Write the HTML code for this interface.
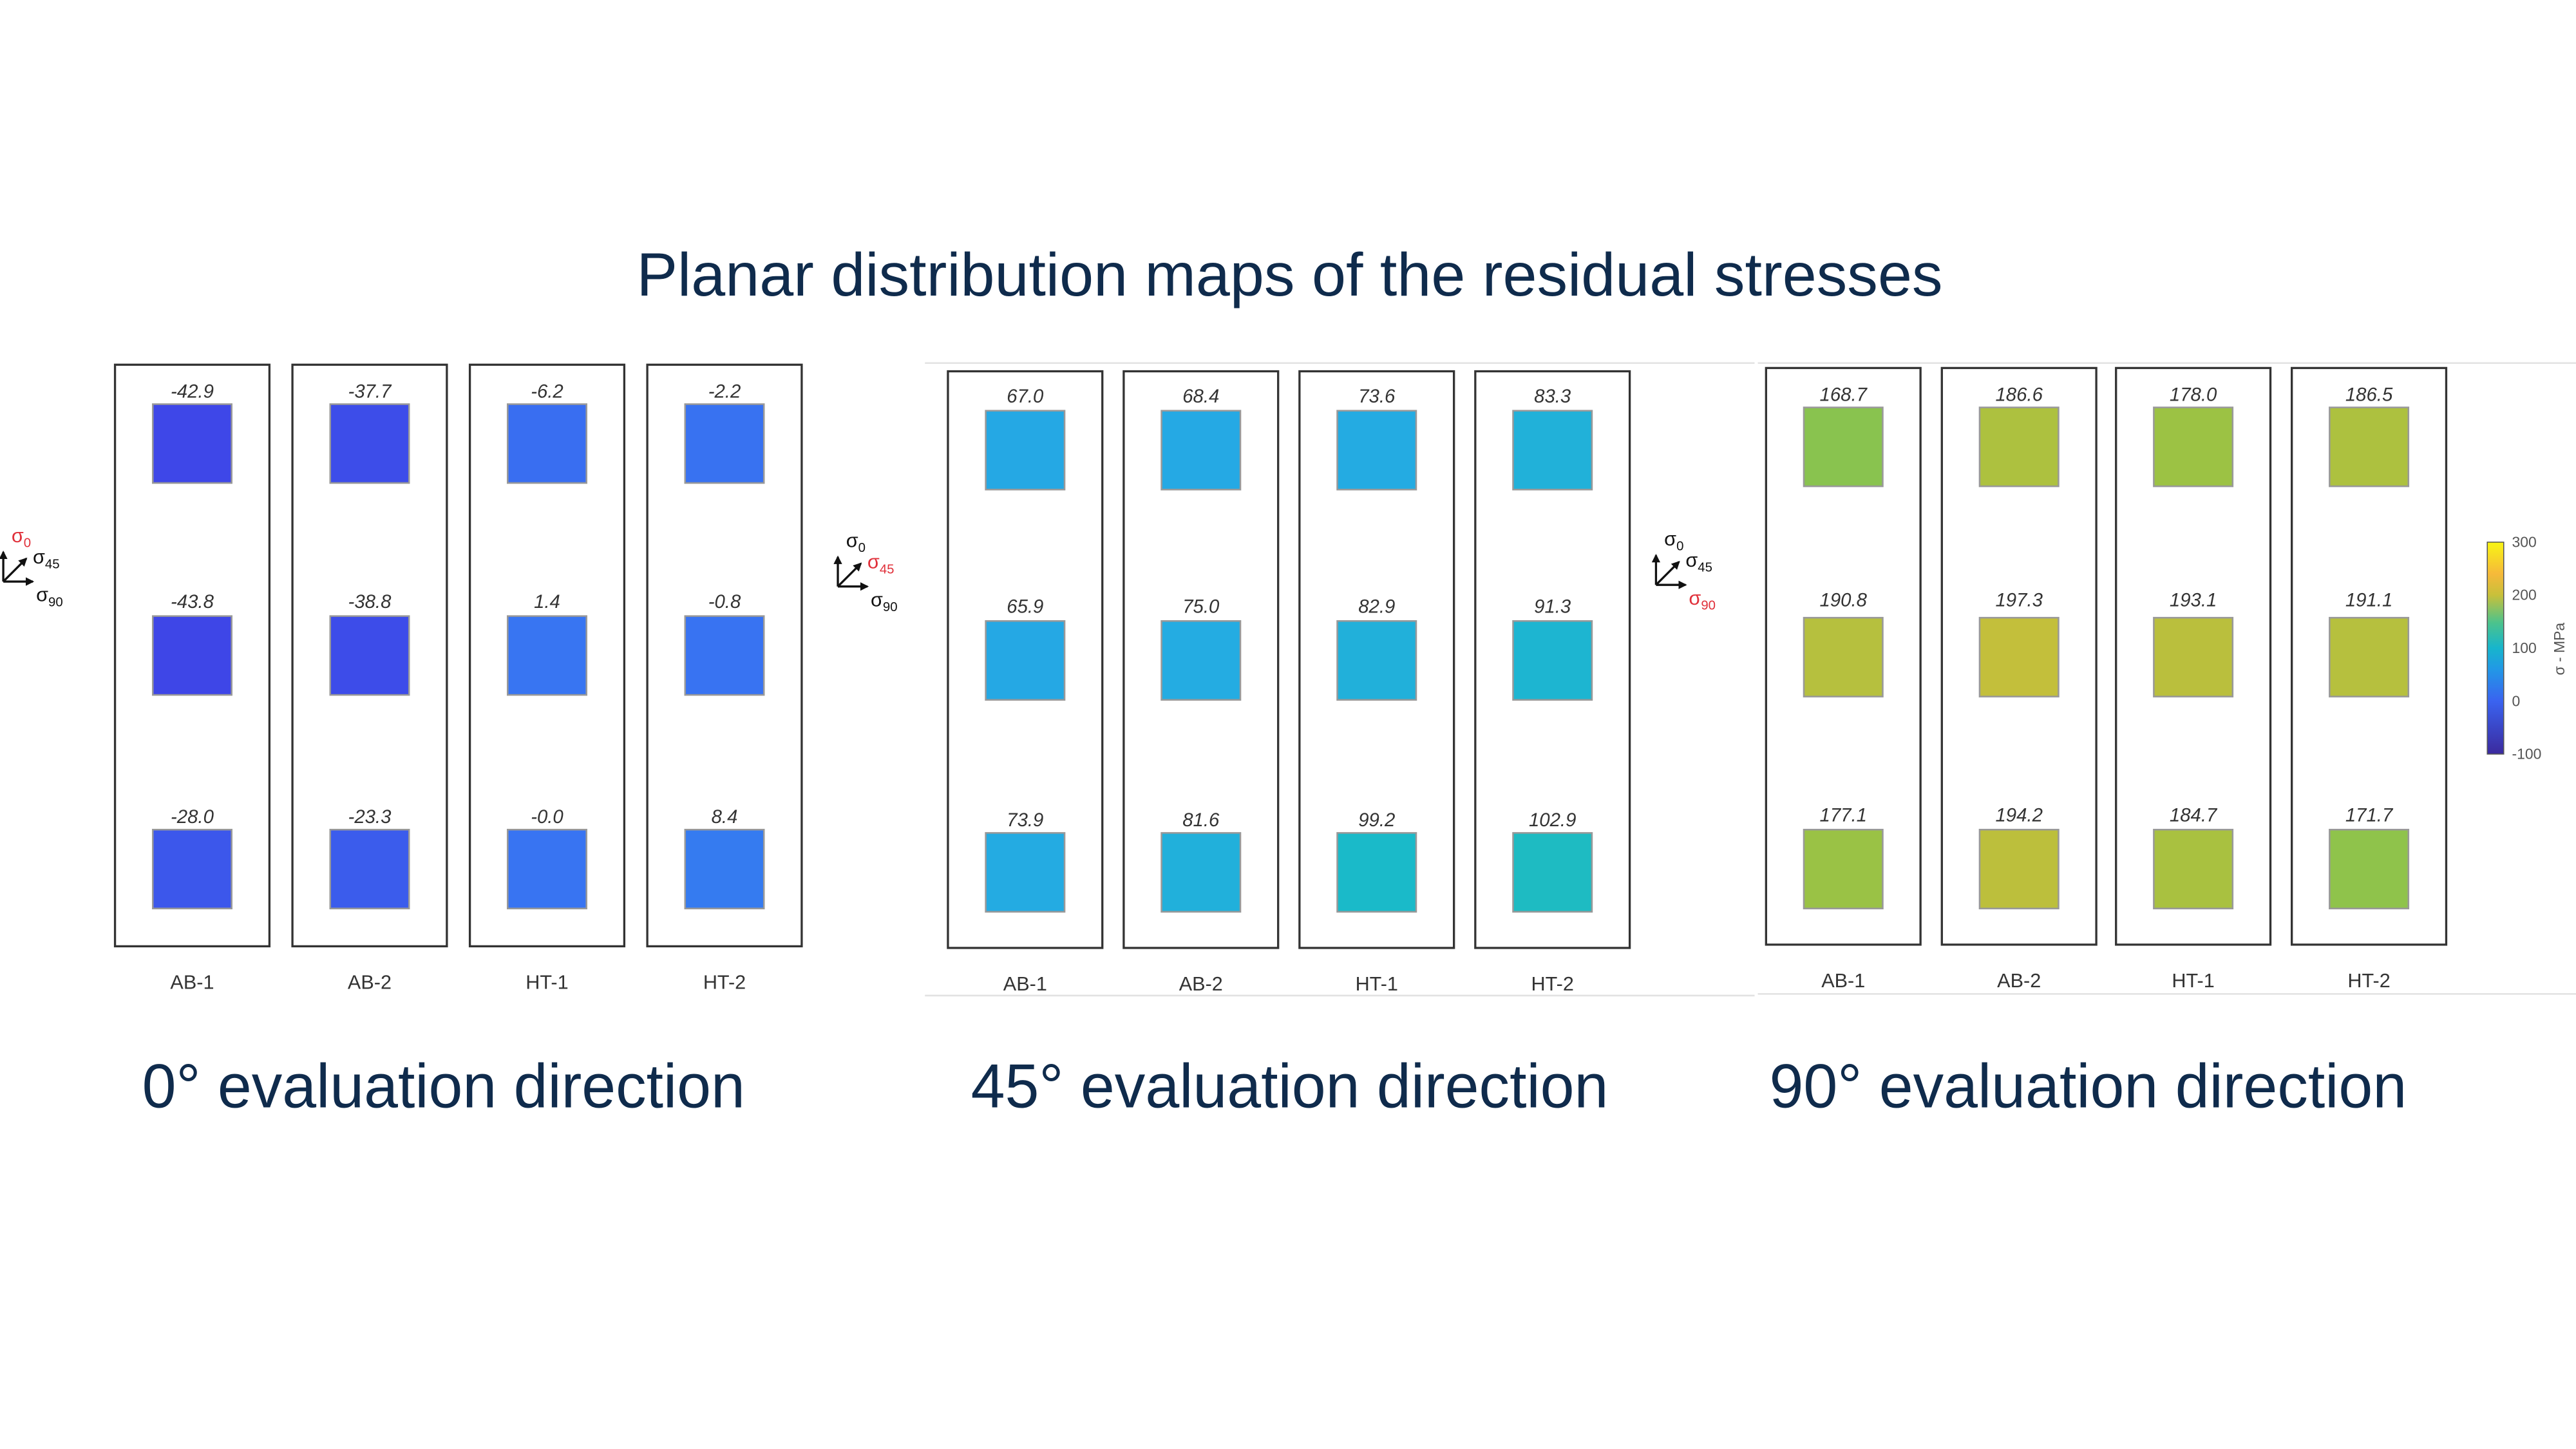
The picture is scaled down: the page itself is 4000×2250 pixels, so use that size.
<!DOCTYPE html>
<html><head><meta charset="utf-8"><style>
html,body{margin:0;padding:0;background:#fff;}
svg{display:block;}
</style></head><body>
<svg id="chart" width="4000" height="2250" viewBox="0 0 1568 882" xmlns="http://www.w3.org/2000/svg" font-family="Liberation Sans, sans-serif">
<rect width="1568" height="882" fill="#fff"/>
<defs>
<linearGradient id="cbar" x1="0" y1="1" x2="0" y2="0">
<stop offset="0" stop-color="#3b2a9e"/><stop offset="0.25" stop-color="#3a63f0"/><stop offset="0.4" stop-color="#2298e6"/><stop offset="0.5" stop-color="#17b5cc"/><stop offset="0.62" stop-color="#4cc38c"/><stop offset="0.75" stop-color="#c8c03a"/><stop offset="0.85" stop-color="#f6b93a"/><stop offset="1" stop-color="#f8f514"/>
</linearGradient>
<marker id="arr" viewBox="0 0 6 6" refX="5" refY="3" markerWidth="4" markerHeight="4" orient="auto"><path d="M0,0 L6,3 L0,6 z" fill="#111"/></marker>
</defs>
<text x="785" y="180" text-anchor="middle" font-size="37" fill="#0f2b4c" textLength="795" lengthAdjust="spacingAndGlyphs">Planar distribution maps of the residual stresses</text>
<g stroke="#e2e2e2" stroke-width="1">
<line x1="563" y1="221" x2="1068" y2="221"/><line x1="563" y1="606" x2="1068" y2="606"/>
<line x1="1070" y1="221" x2="1568" y2="221"/><line x1="1070" y1="605" x2="1568" y2="605"/>
</g>
<g id="panels"></g>
<g><text x="270" y="674" text-anchor="middle" font-size="38" fill="#0f2b4c" textLength="367" lengthAdjust="spacingAndGlyphs">0° evaluation direction</text></g>
<g><text x="785" y="674" text-anchor="middle" font-size="38" fill="#0f2b4c" textLength="388" lengthAdjust="spacingAndGlyphs">45° evaluation direction</text></g>
<g><text x="1271" y="674" text-anchor="middle" font-size="38" fill="#0f2b4c" textLength="388" lengthAdjust="spacingAndGlyphs">90° evaluation direction</text></g>
<g id="colorbar">
<rect x="1514" y="330" width="10" height="129" fill="url(#cbar)" stroke="#555" stroke-width="0.6"/>
</g>
<text transform="translate(1561,395) rotate(-90)" text-anchor="middle" font-size="9" fill="#555">σ - MPa</text>
</svg>
<script>
const columns = ["AB-1","AB-2","HT-1","HT-2"];
const cbTicks = [300,200,100,0,-100];
const vals0 = [[-42.9,-37.7,-6.2,-2.2],[-43.8,-38.8,1.4,-0.8],[-28.0,-23.3,-0.0,8.4]];
const vals45 = [[67.0,68.4,73.6,83.3],[65.9,75.0,82.9,91.3],[73.9,81.6,99.2,102.9]];
const vals90 = [[168.7,186.6,178.0,186.5],[190.8,197.3,193.1,191.1],[177.1,194.2,184.7,171.7]];
const labels0 = [["-42.9","-37.7","-6.2","-2.2"],["-43.8","-38.8","1.4","-0.8"],["-28.0","-23.3","-0.0","8.4"]];
const labels45 = [["67.0","68.4","73.6","83.3"],["65.9","75.0","82.9","91.3"],["73.9","81.6","99.2","102.9"]];
const labels90 = [["168.7","186.6","178.0","186.5"],["190.8","197.3","193.1","191.1"],["177.1","194.2","184.7","171.7"]];

const NS = "http://www.w3.org/2000/svg";
const stops = [[-100,[59,42,158]],[-50,[63,64,230]],[0,[56,116,242]],[50,[40,160,232]],[75,[36,172,226]],[100,[26,186,200]],[150,[100,196,100]],[180,[160,194,66]],[200,[200,190,58]],[250,[248,195,50]],[300,[248,245,20]]];
function color(v){
  if(v<=stops[0][0]) return "rgb("+stops[0][1]+")";
  for(let i=1;i<stops.length;i++){
    if(v<=stops[i][0]){
      const a=stops[i-1],b=stops[i],t=(v-a[0])/(b[0]-a[0]);
      return "rgb("+a[1].map((c,k)=>Math.round(c+(b[1][k]-c)*t)).join(",")+")";
    }
  }
  return "rgb("+stops[stops.length-1][1]+")";
}
const cbY = v => 459 - (v+100)/400*129;
function mk(tag,attrs,parent){const e=document.createElementNS(NS,tag);for(const k in attrs)e.setAttribute(k,attrs[k]);parent.appendChild(e);return e;}

const panelsG=document.getElementById("panels");
const panels=[
 {vals:vals0,labels:labels0,boxX:[70,178,286,394],boxY:222,boxB:576,sq:[246,375,505],lblY:[242,370,501],colY:602,axX:2,axY:330,red:0,name:"0"},
 {vals:vals45,labels:labels45,boxX:[577,684,791,898],boxY:226,boxB:577,sq:[250,378,507],lblY:[245,373,503],colY:603,axX:510,axY:333,red:1,name:"45"},
 {vals:vals90,labels:labels90,boxX:[1075,1182,1288,1395],boxY:224,boxB:575,sq:[248,376,505],lblY:[244,369,500],colY:601,axX:1008,axY:332,red:2,name:"90"}
];
panels.forEach(p=>{
  const g=mk("g",{},panelsG);
  
  
  columns.forEach((c,ci)=>{
    const x=p.boxX[ci];
    const box=mk("rect",{x:x,y:p.boxY,width:94,height:p.boxB-p.boxY,fill:"none",stroke:"#333","stroke-width":1.3},g);
    
    
    const cl=mk("text",{x:x+47,y:p.colY,"text-anchor":"middle","font-size":12,fill:"#333"},g);
    cl.textContent=c;
    
    
    p.vals.forEach((row,ri)=>{
      const v=row[ci];
      const cell=mk("rect",{x:x+23,y:p.sq[ri],width:48,height:48,fill:color(v),stroke:"#999","stroke-width":1},g);
      
      
      const t=mk("text",{x:x+47,y:p.lblY[ri],"text-anchor":"middle","font-size":11.5,"font-style":"italic",fill:"#333"},g);
      t.textContent=p.labels[ri][ci];
      
      
    });
  });
  const a=mk("g",{stroke:"#111","stroke-width":1.3,fill:"none"},g);
  
  
  const ox=p.axX, oy=p.axY+24;
  mk("line",{x1:ox,y1:oy,x2:ox,y2:oy-18,"marker-end":"url(#arr)"},a);
  mk("line",{x1:ox,y1:oy,x2:ox+18,y2:oy,"marker-end":"url(#arr)"},a);
  mk("line",{x1:ox,y1:oy,x2:ox+14,y2:oy-14,"marker-end":"url(#arr)"},a);
  const cols=["#111","#111","#111"]; cols[p.red]="#e0303a";
  const s0=mk("text",{x:ox+5,y:oy-24,"font-size":12,fill:cols[0]},g); s0.innerHTML='σ<tspan font-size="8" dy="3">0</tspan>';
   
  const s45=mk("text",{x:ox+18,y:oy-11,"font-size":12,fill:cols[1]},g); s45.innerHTML='σ<tspan font-size="8" dy="3">45</tspan>';
   
  const s90=mk("text",{x:ox+20,y:oy+12,"font-size":12,fill:cols[2]},g); s90.innerHTML='σ<tspan font-size="8" dy="3">90</tspan>';
   
});
const cb=document.getElementById("colorbar");
cbTicks.forEach(v=>{
  const t=mk("text",{x:1529,y:cbY(v)+3,"font-size":9,fill:"#555"},cb);
  t.textContent=v;
  
  
});
</script>
</body></html>
